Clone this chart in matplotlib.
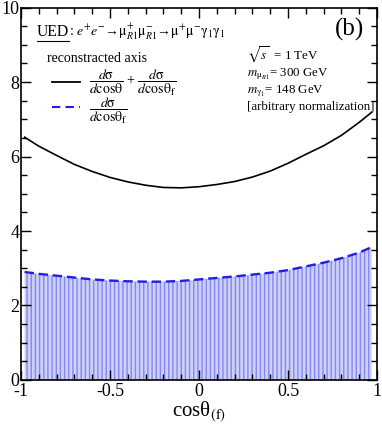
import matplotlib
matplotlib.use("Agg")
import matplotlib.pyplot as plt
from matplotlib.ticker import MultipleLocator, FixedFormatter, FixedLocator

plt.rcParams['font.family'] = ['Liberation Serif', 'DejaVu Serif']
plt.rcParams['mathtext.fontset'] = 'stix'
plt.rcParams['mathtext.default'] = 'rm'
plt.rcParams['hatch.linewidth'] = 1.0

# data
cos_theta = [-0.98, -0.9, -0.8, -0.7, -0.6, -0.5, -0.4, -0.3, -0.2, -0.1, 0.0,
             0.1, 0.2, 0.3, 0.4, 0.5, 0.6, 0.7, 0.8, 0.9, 0.97]
sum_dist = [6.52, 6.28, 6.03, 5.79, 5.60, 5.44, 5.32, 5.23, 5.17, 5.16, 5.19,
            5.25, 5.33, 5.45, 5.61, 5.82, 6.06, 6.29, 6.57, 6.92, 7.19]
f_dist = [2.90, 2.85, 2.80, 2.75, 2.70, 2.67, 2.65, 2.64, 2.64, 2.66, 2.70,
          2.74, 2.78, 2.83, 2.88, 2.95, 3.05, 3.15, 3.27, 3.42, 3.57]
xticks = [-1, -0.5, 0, 0.5, 1]
xtick_labels = ["-1", "-0.5", "0", "0.5", "1"]
yticks = [0, 2, 4, 6, 8, 10]

fig = plt.figure(figsize=(3.82, 4.25), dpi=100)
ax = fig.add_axes([0.055, 0.106, 0.932, 0.876])

ax.fill_between(cos_theta, 0, f_dist, facecolor='#ccd0fa', edgecolor='#8488f0',
                hatch='||||', linewidth=0)
ax.plot(cos_theta, sum_dist, color='black', lw=1.2)
ax.plot(cos_theta, f_dist, color='#1f1fe6', lw=1.7, dashes=(4, 2))

ax.set_xlim(-1, 1)
ax.set_ylim(0, 10)
ax.xaxis.set_major_locator(FixedLocator(xticks))
ax.xaxis.set_major_formatter(FixedFormatter(xtick_labels))
ax.xaxis.set_minor_locator(MultipleLocator(0.1))
ax.yaxis.set_major_locator(FixedLocator(yticks))
ax.yaxis.set_minor_locator(MultipleLocator(0.5))
ax.tick_params(which='both', direction='in', top=True, right=True, labelsize=13)
ax.tick_params(axis='x', pad=2)
ax.tick_params(axis='y', pad=1)
ax.tick_params(which='major', length=7, width=1)
ax.tick_params(which='minor', length=4, width=1)
ax.set_xlabel("cosθ$_{\\mathrm{(f)}}$", fontsize=15, labelpad=0)
for s in ax.spines.values():
    s.set_linewidth(1.2)

# title-like annotation
t_ued = ax.text(0.045, 0.925, "UED", transform=ax.transAxes, fontsize=11.3, va='baseline')
ax.text(0.135, 0.925,
        r": $\mathit{e}^{+}\mathit{e}^{-}$→$\mu^{+}_{\mathit{R}1}\mu^{-}_{\mathit{R}1}$→$\mu^{+}\mu^{-}\gamma_{1}\gamma_{1}$",
        transform=ax.transAxes, fontsize=10, va='baseline')
fig.canvas.draw()
bb = t_ued.get_window_extent().transformed(ax.transAxes.inverted())
ax.plot([bb.x0, bb.x1], [bb.y0 - 0.003, bb.y0 - 0.003], transform=ax.transAxes,
        color='black', lw=0.8, clip_on=False)

ax.text(0.965, 0.925, "(b)", transform=ax.transAxes, fontsize=18, ha='right', va='baseline')
ax.text(0.074, 0.855, "reconstracted axis", transform=ax.transAxes, fontsize=10, va='baseline')

# legend
ax.plot([0.087, 0.165], [0.8, 0.8], transform=ax.transAxes, color='black', lw=1.3)
ax.text(0.19, 0.797,
        r"$\dfrac{\mathit{d}\sigma}{\mathit{d}\mathrm{cos}\theta}$ + $\dfrac{\mathit{d}\sigma}{\mathit{d}\mathrm{cos}\theta_{\mathrm{f}}}$",
        transform=ax.transAxes, fontsize=10, va='center')
ax.plot([0.087, 0.165], [0.733, 0.733], transform=ax.transAxes, color='#1f1fe6', lw=1.5, dashes=(4, 2.5))
ax.text(0.19, 0.722, r"$\dfrac{\mathit{d}\sigma}{\mathit{d}\mathrm{cos}\theta_{\mathrm{f}}}$",
        transform=ax.transAxes, fontsize=10, va='center')

# parameters block
ax.text(0.635, 0.86, r"$\sqrt{\mathit{s}}$  = 1 TeV", transform=ax.transAxes, fontsize=9.3, va='baseline')
ax.text(0.635, 0.815, r"$\mathit{m}_{\mu_{\mathit{R}1}}$= 300 GeV", transform=ax.transAxes, fontsize=9.3, va='baseline')
ax.text(0.635, 0.77, r"$\mathit{m}_{\gamma_1}$= 148 GeV", transform=ax.transAxes, fontsize=9.3, va='baseline')
ax.text(0.635, 0.725, "[arbitrary normalization]", transform=ax.transAxes, fontsize=9.3, va='baseline')

fig.savefig("out.png", dpi=100)
